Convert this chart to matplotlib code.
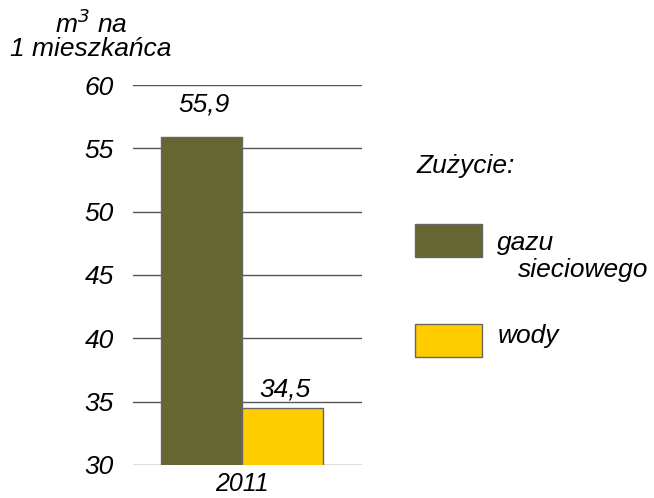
import matplotlib
matplotlib.use("Agg")
import matplotlib.pyplot as plt
from matplotlib.patches import Rectangle

# data
year = "2011"
series = [["gazu", "sieciowego"], ["wody"]]
values = [55.9, 34.5]
labels = ["55,9", "34,5"]
colors = ["#666633", "#ffcc00"]
yticks = [30, 35, 40, 45, 50, 55, 60]

plt.rcParams['font.family'] = ['Liberation Sans', 'DejaVu Sans']
plt.rcParams['font.style'] = 'italic'
FS = 19

fig = plt.figure(figsize=(6.54, 4.98), dpi=100)
ax = fig.add_axes([0.2034, 0.0663, 0.350, 0.763])

offs = [-0.5, 0.5]
bars = ax.bar(offs, values, width=1.0, bottom=0, color=colors,
              edgecolor="#666666", linewidth=1, zorder=3)

ax.set_ylim(30, 60)
ax.set_xlim(-1.346, 1.481)
ax.set_yticks(yticks)
ax.set_yticklabels([str(t) for t in yticks], fontsize=FS, style='italic')
ax.set_xticks([0])
ax.set_xticklabels([year], fontsize=18, style='italic')
ax.tick_params(axis='y', length=0, pad=14)
ax.tick_params(axis='x', length=0, pad=5)
for s in ax.spines.values():
    s.set_visible(False)
ax.yaxis.grid(True, color="#555555", linewidth=1, zorder=0)

# value labels, offset in points above bar top
pads = [18, 8]
for b, lab, p in zip(bars, labels, pads):
    ax.annotate(lab, (b.get_x() + b.get_width() / 2, b.get_height()),
                xytext=(2, p), textcoords="offset points",
                ha="center", va="baseline", fontsize=FS, style='italic')

fig.text(0.139, 0.9337, "m$^3$ na", ha="center", va="baseline", fontsize=FS, style='italic')
fig.text(0.139, 0.8876, "1 mieszkańca", ha="center", va="baseline", fontsize=FS, style='italic')

# legend drawn by hand
fig.text(0.6376, 0.6526, "Zużycie:", ha="left", va="baseline", fontsize=FS, style='italic')
patch_y = [0.4839, 0.2831]
for c, y in zip(colors, patch_y):
    fig.patches.append(Rectangle((0.6346, y), 0.1024, 0.0663, transform=fig.transFigure,
                                 facecolor=c, edgecolor="#666666", linewidth=1))
fig.text(0.760, 0.498, series[0][0], ha="left", va="baseline", fontsize=FS, style='italic')
fig.text(0.792, 0.4438, series[0][1], ha="left", va="baseline", fontsize=FS, style='italic')
fig.text(0.7615, 0.3112, series[1][0], ha="left", va="baseline", fontsize=FS, style='italic')

fig.savefig("out.png", dpi=100)
